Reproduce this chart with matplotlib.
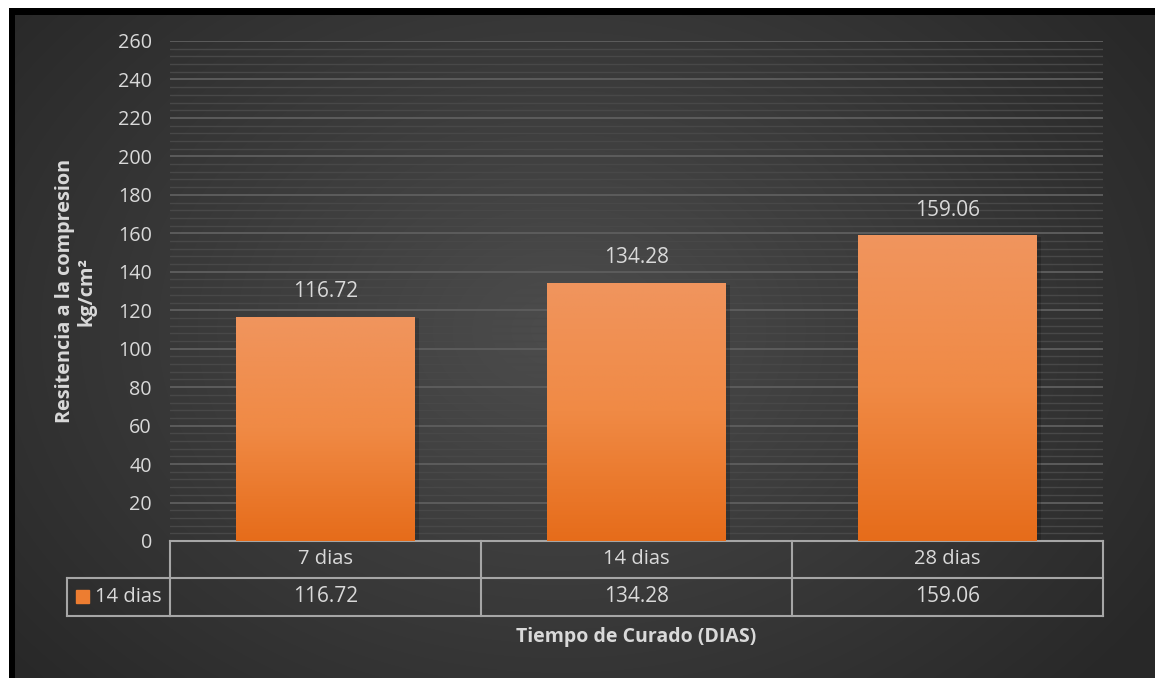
import numpy as np
import matplotlib
matplotlib.use("Agg")
import matplotlib.pyplot as plt
from matplotlib.colors import LinearSegmentedColormap
from matplotlib.transforms import blended_transform_factory

categories = ["7 dias", "14 dias", "28 dias"]
values = [116.72, 134.28, 159.06]
series_name = "14 dias"
y_ticks = list(range(0, 261, 20))
x_title = "Tiempo de Curado (DIAS)"
y_title = "Resitencia a la compresion\nkg/cm²"

W, H = 1155, 678
plt.rcParams['font.family'] = ['Open Sans', 'DejaVu Sans']
fig = plt.figure(figsize=(W / 100, H / 100), dpi=100)
fig.patch.set_facecolor("white")

# background radial gradient
bg = fig.add_axes([0, 0, 1, 1])
bg.set_axis_off()
yy, xx = np.mgrid[0:H, 0:W]
cx, cy = 560, 330
r = np.sqrt(((xx - cx) / 700) ** 2 + ((yy - cy) / 520) ** 2)
r = np.clip(r, 0, 1)
g = 0.30 - 0.14 * r
img = np.dstack([g, g, g])
img[:8, :, :] = 1.0
img[:, :9, :] = 1.0
img[8:15, 9:, :] = 0.0
img[8:, 9:15, :] = 0.0
bg.imshow(img, extent=[0, W, H, 0], aspect="auto", interpolation="bilinear")
bg.set_xlim(0, W)
bg.set_ylim(H, 0)

def fx(px):
    return px / W

def fy(py):
    return 1 - py / H

left, right, top, bottom = 170, 1103, 41, 541
ax = fig.add_axes([fx(left), fy(bottom), fx(right) - fx(left), fy(top) - fy(bottom)])
ax.set_facecolor("none")
ax.set_xlim(-0.5, len(categories) - 0.5)
ax.set_ylim(0, 260)
for s in ax.spines.values():
    s.set_visible(False)

# gridlines
for v in np.arange(0, 261, 4):
    major = (v % 20 == 0)
    ax.axhline(v, color="#5c5c5c" if major else "#484848", lw=1.4 if major else 1.0, zorder=0)

ax.set_yticks(y_ticks)
ax.set_yticklabels([str(t) for t in y_ticks], fontsize=14.2, color="#d9d9d9")
ax.tick_params(axis="y", length=0, pad=13)
ax.set_xticks([])

cmap = LinearSegmentedColormap.from_list("org", ["#e66c1a", "#f08a45", "#f0955e"])
x = np.arange(len(categories))
bars = ax.bar(x, values, width=0.575, color="#ed7d31", zorder=2)
grad = np.linspace(0, 1, 256).reshape(-1, 1)
for b, v in zip(bars, values):
    # soft shadow
    ax.bar(b.get_x() + b.get_width() / 2 + 0.012, v, width=b.get_width(), bottom=-1,
           color="black", alpha=0.18, zorder=1)
    im = ax.imshow(grad, cmap=cmap, aspect="auto", origin="lower",
                   extent=[b.get_x(), b.get_x() + b.get_width(), 0, v], zorder=3)
    im.set_clip_path(b)
    ax.text(b.get_x() + b.get_width() / 2, v + 7.5, f"{v:.2f}", ha="center", va="bottom",
            fontsize=15, color="#d9d9d9", zorder=4)
ax.set_xlim(-0.5, len(categories) - 0.5)
ax.set_ylim(0, 260)

# data table
tr = blended_transform_factory(ax.transData, fig.transFigure)
lc = "#a6a6a6"
lw = 1.5
row1, row2, row3 = fy(541), fy(578), fy(616)
xl, xr = -0.5, len(categories) - 0.5
for yv in (row1, row2, row3):
    ax.plot([xl, xr], [yv, yv], color=lc, lw=lw, transform=tr, clip_on=False)
for i in range(len(categories) + 1):
    ax.plot([xl + i, xl + i], [row1, row3], color=lc, lw=lw, transform=tr, clip_on=False)
for i, (c, v) in enumerate(zip(categories, values)):
    ax.text(i, (row1 + row2) / 2, c, ha="center", va="center", fontsize=14.5,
            color="#d9d9d9", transform=tr)
    ax.text(i, (row2 + row3) / 2, f"{v:.2f}", ha="center", va="center", fontsize=15,
            color="#d9d9d9", transform=tr)
# row header cell
hl = fx(67)
hr = fx(170)
fig.add_artist(plt.Line2D([hl, hr], [row2, row2], color=lc, lw=lw))
fig.add_artist(plt.Line2D([hl, hr], [row3, row3], color=lc, lw=lw))
fig.add_artist(plt.Line2D([hl, hl], [row2, row3], color=lc, lw=lw))
fig.add_artist(plt.Rectangle((fx(76), fy(603)), fx(89) - fx(76), fy(590) - fy(603),
                             color="#ed7d31"))
fig.text(fx(95), (row2 + row3) / 2, series_name, ha="left", va="center", fontsize=14.5,
         color="#d9d9d9")

fig.text(fx(636), fy(637), x_title, ha="center", va="center", fontsize=14,
         fontweight="bold", color="#d9d9d9")
fig.text(fx(76), fy(291), y_title, ha="center", va="center", fontsize=14.3,
         fontweight="bold", color="#d9d9d9", rotation=90, linespacing=1.1)

fig.savefig("out.png", dpi=100)
